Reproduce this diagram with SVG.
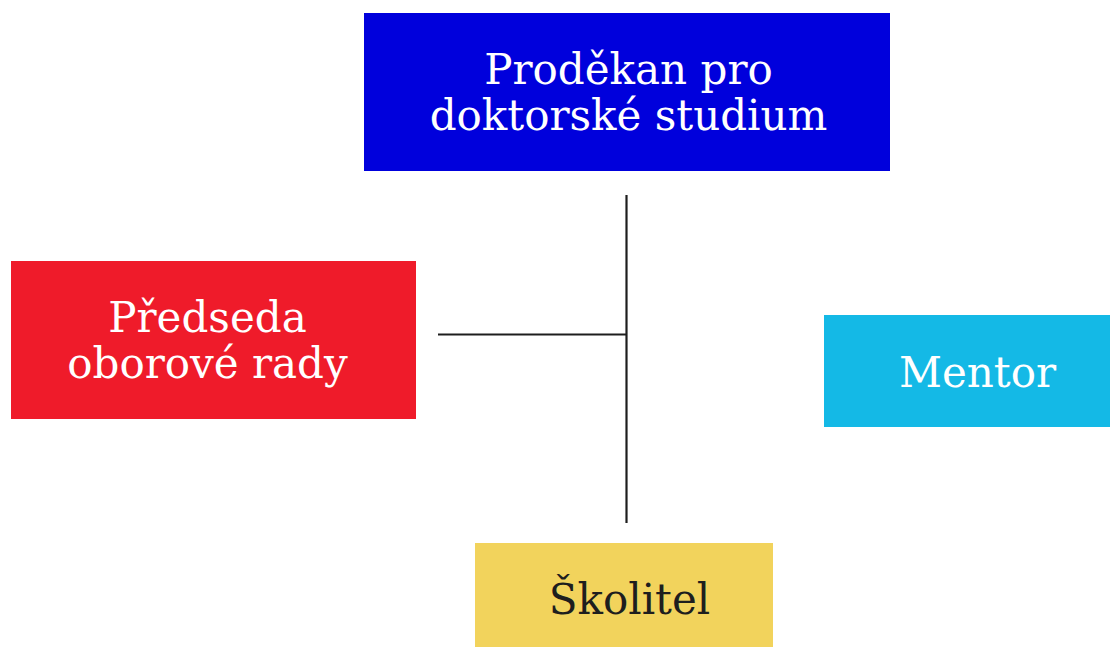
<svg xmlns="http://www.w3.org/2000/svg" width="1110" height="647" viewBox="0 0 1110 647">
<style>
.t{font-family:"DejaVu Serif","Liberation Serif",serif;font-size:42px;text-anchor:middle}
.w{fill:#ffffff}
.k{fill:#1e1e1e}
.c{stroke:#1e1e1e;stroke-width:2.2;fill:none}
</style>
<rect width="1110" height="647" fill="#ffffff"/>
<g id="connectors">
<line class="c" x1="626.5" y1="195" x2="626.5" y2="523"/>
<line class="c" x1="438" y1="334.5" x2="626.5" y2="334.5"/>
</g>
<g id="prodekan">
<rect x="364" y="13" width="526" height="158" fill="#0000dc"/>
<text class="t w" x="628.5" y="84">Proděkan pro</text>
<text class="t w" x="628.5" y="130">doktorské studium</text>
</g>
<g id="predseda">
<rect x="11" y="261" width="405" height="158" fill="#ef1b2a"/>
<text class="t w" x="207.5" y="332">Předseda</text>
<text class="t w" x="207.5" y="378">oborové rady</text>
</g>
<g id="mentor">
<rect x="824" y="315" width="286" height="112" fill="#14b9e6"/>
<text class="t w" x="977.5" y="387">Mentor</text>
</g>
<g id="skolitel">
<rect x="475" y="543" width="298" height="104" fill="#f2d35c"/>
<text class="t k" x="629.5" y="614">Školitel</text>
</g>
</svg>
